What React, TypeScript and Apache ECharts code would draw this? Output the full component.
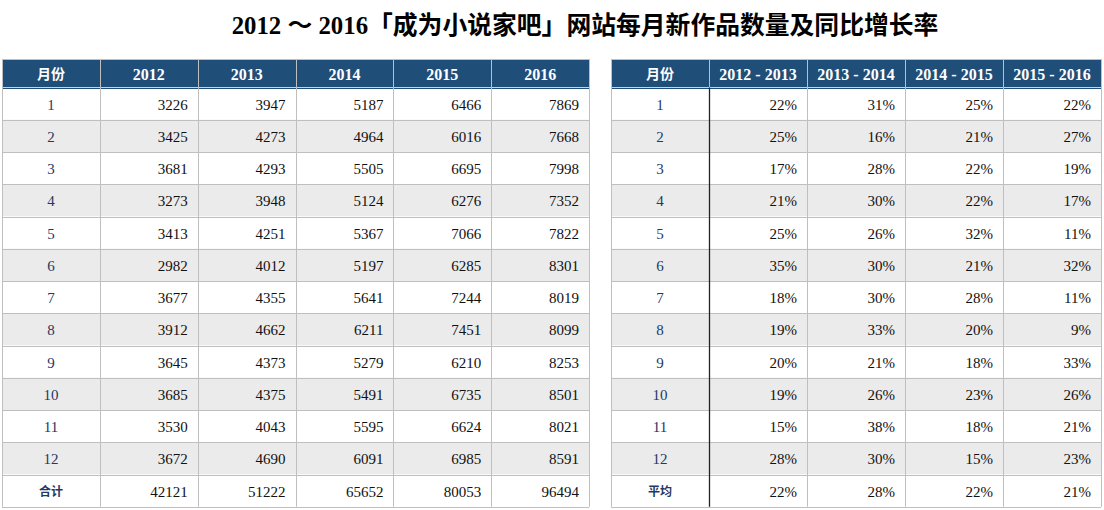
import React, { useEffect, useRef } from "react";
import * as echarts from "echarts";

const TITLE = "2012 ～ 2016「成为小说家吧」网站每月新作品数量及同比增长率";
const MONTHS = ["1", "2", "3", "4", "5", "6", "7", "8", "9", "10", "11", "12"];
const LEFT_HEADERS = ["月份", "2012", "2013", "2014", "2015", "2016"];
const RIGHT_HEADERS = ["月份", "2012 - 2013", "2013 - 2014", "2014 - 2015", "2015 - 2016"];

const Y2012 = [3226, 3425, 3681, 3273, 3413, 2982, 3677, 3912, 3645, 3685, 3530, 3672];
const Y2013 = [3947, 4273, 4293, 3948, 4251, 4012, 4355, 4662, 4373, 4375, 4043, 4690];
const Y2014 = [5187, 4964, 5505, 5124, 5367, 5197, 5641, 6211, 5279, 5491, 5595, 6091];
const Y2015 = [6466, 6016, 6695, 6276, 7066, 6285, 7244, 7451, 6210, 6735, 6624, 6985];
const Y2016 = [7869, 7668, 7998, 7352, 7822, 8301, 8019, 8099, 8253, 8501, 8021, 8591];
const TOTALS = [42121, 51222, 65652, 80053, 96494];

const G1213 = [22, 25, 17, 21, 25, 35, 18, 19, 20, 19, 15, 28];
const G1314 = [31, 16, 28, 30, 26, 30, 30, 33, 21, 26, 38, 30];
const G1415 = [25, 21, 22, 22, 32, 21, 28, 20, 18, 23, 18, 15];
const G1516 = [22, 27, 19, 17, 11, 32, 11, 9, 33, 26, 21, 23];
const AVERAGES = [22, 28, 22, 21];

const SERIF = "'Liberation Serif', 'Noto Sans CJK SC', serif";
const HEADER_BG = "#1f4e79";
const STRIPE = "#ebebeb";
const GRID = "#bfbfbf";
const LABEL_COLOR = "#1f3864";

const TOP = 59;
const HEADER_H = 28.5;
const ROW_H = 32.25;

function buildTable(
  x0: number,
  colW: number,
  headers: string[],
  columns: string[][],
  summaryLabel: string,
  summary: string[],
  divider: boolean
) {
  const els: any[] = [];
  const nCols = headers.length;
  const nRows = MONTHS.length + 1;
  const width = colW * nCols;
  const bodyTop = TOP + HEADER_H;
  const bottom = bodyTop + nRows * ROW_H;

  els.push({ type: "rect", shape: { x: x0, y: TOP, width, height: HEADER_H }, style: { fill: HEADER_BG } });
  for (let r = 0; r < nRows; r++) {
    const fill = r < MONTHS.length && r % 2 === 1 ? STRIPE : "#ffffff";
    els.push({ type: "rect", shape: { x: x0, y: bodyTop + r * ROW_H, width, height: ROW_H }, style: { fill } });
  }
  const hs = [TOP, bodyTop];
  for (let r = 1; r <= nRows; r++) hs.push(bodyTop + r * ROW_H);
  hs.forEach((y, i) => {
    const yy = Math.round(y) + 0.5;
    els.push({
      type: "line",
      shape: { x1: x0, y1: yy, x2: x0 + width, y2: yy },
      style: { stroke: i === 1 ? HEADER_BG : GRID, lineWidth: 1 },
    });
  });
  for (let c = 0; c <= nCols; c++) {
    const xx = Math.round(x0 + c * colW) + 0.5;
    els.push({
      type: "line",
      shape: { x1: xx, y1: TOP, x2: xx, y2: bottom },
      style: { stroke: GRID, lineWidth: 1 },
    });
  }
  if (divider) {
    const xx = Math.round(x0 + colW) + 0.5;
    els.push({
      type: "line",
      shape: { x1: xx, y1: bodyTop, x2: xx, y2: bottom },
      style: { stroke: "#222222", lineWidth: 1.3 },
    });
  }
  headers.forEach((h, c) => {
    els.push({
      type: "text",
      x: x0 + c * colW + colW / 2,
      y: TOP + HEADER_H / 2 + 1,
      style: {
        text: h,
        fill: "#ffffff",
        fontFamily: SERIF,
        fontWeight: "bold",
        fontSize: c === 0 ? 14 : 16,
        align: "center",
        verticalAlign: "middle",
        textAlign: "center",
        textVerticalAlign: "middle",
      },
    });
  });
  for (let r = 0; r < nRows; r++) {
    const cy = bodyTop + r * ROW_H + ROW_H / 2 + 1;
    const isSum = r === MONTHS.length;
    const label = isSum ? summaryLabel : MONTHS[r];
    els.push({
      type: "text",
      x: x0 + colW / 2,
      y: cy,
      style: {
        text: label,
        fill: LABEL_COLOR,
        fontFamily: SERIF,
        fontSize: isSum ? 12 : 15,
        fontWeight: isSum ? "bold" : "normal",
        align: "center",
        verticalAlign: "middle",
        textAlign: "center",
        textVerticalAlign: "middle",
      },
    });
    for (let c = 0; c < columns.length; c++) {
      const val = isSum ? summary[c] : columns[c][r];
      els.push({
        type: "text",
        x: x0 + (c + 2) * colW - 10,
        y: cy,
        style: {
          text: val,
          fill: "#111111",
          fontFamily: SERIF,
          fontSize: 15,
          align: "right",
          verticalAlign: "middle",
          textAlign: "right",
          textVerticalAlign: "middle",
        },
      });
    }
  }
  return els;
}

export default function App() {
  const ref = useRef<HTMLDivElement>(null);
  useEffect(() => {
    document.body.style.margin = "0";
    if (!ref.current) return;
    const chart = echarts.init(ref.current, null, { renderer: "svg" });
    const leftCols = [Y2012, Y2013, Y2014, Y2015, Y2016].map((a) => a.map(String));
    const rightCols = [G1213, G1314, G1415, G1516].map((a) => a.map((v) => v + "%"));
    const left = buildTable(2, 97.85, LEFT_HEADERS, leftCols, "合计", TOTALS.map(String), false);
    const right = buildTable(611, 98, RIGHT_HEADERS, rightCols, "平均", AVERAGES.map((v) => v + "%"), true);
    const title = {
      type: "text",
      x: 585,
      y: 25,
      style: {
        text: TITLE,
        fill: "#000000",
        fontFamily: SERIF,
        fontWeight: "bold",
        fontSize: 24.8,
        align: "center",
        verticalAlign: "middle",
        textAlign: "center",
        textVerticalAlign: "middle",
      },
    };
    chart.setOption({
      animation: false,
      backgroundColor: "#ffffff",
      graphic: [title, ...left, ...right],
    });
    return () => chart.dispose();
  }, []);
  return <div ref={ref} style={{ width: 1104, height: 510 }} />;
}
